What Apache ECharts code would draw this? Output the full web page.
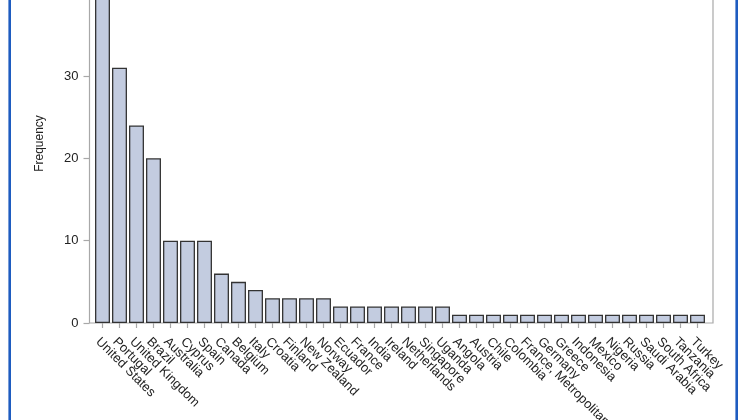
<!DOCTYPE html>
<html>
<head>
<meta charset="utf-8">
<script src="https://cdn.jsdelivr.net/npm/echarts@6/dist/echarts.min.js"></script>
<style>
html,body{margin:0;padding:0;background:#fff;overflow:hidden;width:750px;height:420px;position:relative;}
#c{position:absolute;left:0;top:-36px;width:750px;height:456px;}
</style>
</head>
<body>
<div id="c"></div>
<script>
const categories = ["United States","Portugal","United Kingdom","Brazil","Australia","Cyprus","Spain","Canada","Belgium","Italy","Croatia","Finland","New Zealand","Norway","Ecuador","France","India","Ireland","Netherlands","Singapore","Uganda","Angola","Austria","Chile","Colombia","France, Metropolitan","Germany","Greece","Indonesia","Mexico","Nigeria","Russia","Saudi Arabia","South Africa","Tanzania","Turkey"];
const frequency = [42,31,24,20,10,10,10,6,5,4,3,3,3,3,2,2,2,2,2,2,2,1,1,1,1,1,1,1,1,1,1,1,1,1,1,1];
const yTicks = [0,10,20,30,40];

const yMax = 43.6;
const chart = echarts.init(document.getElementById('c'), null, {renderer:'canvas'});
const font = '"Liberation Sans", Arial, sans-serif';
chart.setOption({
  animation:false,
  backgroundColor:'#fff',
  grid:[
    {left:94, right:44, top:0, bottom:97, show:false, containLabel:false, outerBoundsMode:'none'},
    {left:89.5, right:37, top:0, bottom:97, show:true, borderColor:'#a8a8a8', borderWidth:1.2, backgroundColor:'transparent', containLabel:false, outerBoundsMode:'none'}
  ],
  xAxis:[
    {type:'category', gridIndex:0, data:categories, boundaryGap:true,
     axisLine:{show:false},
     axisTick:{show:true, alignWithLabel:true, length:5, lineStyle:{color:'#a8a8a8', width:1.2}},
     offset:3,
     axisLabel:{rotate:-45, interval:0, fontSize:13, color:'#222', fontFamily:font, margin:9, verticalAlign:'top'}},
    {type:'value', gridIndex:1, show:false, min:0, max:1}
  ],
  yAxis:[
    {type:'value', gridIndex:0, show:false, min:0, max:yMax, interval:10},
    {type:'value', gridIndex:1, min:0, max:yMax, interval:10,
     name:'Frequency', nameLocation:'middle', nameGap:44, nameRotate:90,
     nameTextStyle:{fontSize:12, color:'#222', fontFamily:font},
     axisLine:{show:false},
     axisTick:{show:true, length:6, lineStyle:{color:'#a8a8a8', width:1.2}},
     splitLine:{show:false},
     axisLabel:{fontSize:13, color:'#222', fontFamily:font, margin:11,
       formatter:function(v){return yTicks.indexOf(v)>=0 ? String(v) : '';}}}
  ],
  series:[{
    type:'bar', xAxisIndex:0, yAxisIndex:0, data:frequency,
    barCategoryGap:'12%',
    itemStyle:{color:'#c3cce0', borderColor:'#333', borderWidth:1.3}
  }],
  graphic:[{
    type:'rect', silent:true, z:100,
    shape:{x:9.7, y:10, width:727, height:500},
    style:{fill:'none', stroke:'#1e5cc0', lineWidth:2.6}
  }]
});
</script>
</body>
</html>
